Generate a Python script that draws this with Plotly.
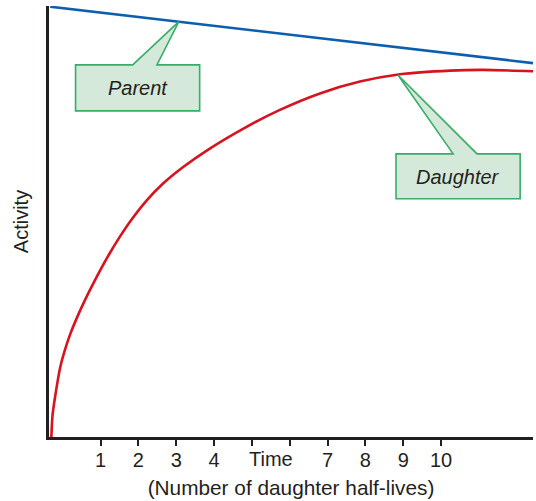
import plotly.graph_objects as go

# ---- data (x in daughter half-lives, y = relative activity) ----
daughter_t = [-0.299, -0.272, -0.212, -0.061, 0.053, 0.204, 0.389, 0.582, 0.759, 0.979,
              1.243, 1.508, 1.817, 2.222, 2.646, 3.175, 3.836, 4.860, 5.741, 6.799, 7.857,
              8.915, 10.238, 11.111, 12.434]
daughter_a = [0.0, 4.75, 8.69, 16.34, 20.05, 23.99, 27.93, 31.63, 34.76, 38.50,
              42.64, 46.44, 50.43, 54.92, 58.75, 62.57, 66.63, 71.96, 75.90, 79.72, 82.46,
              84.17, 85.01, 85.17, 84.87]
parent_t = [-0.33, 9.18, 12.43]
parent_a = [99.84, 90.0, 86.75]

tick_vals = [1, 2, 3, 4, 5, 6, 7, 8, 9, 10]
tick_text = ["1", "2", "3", "4", "", "", "7", "8", "9", "10"]

FONT = "Liberation Sans, Arial, Helvetica, sans-serif"
SIZE = 20
DARK = "#231f20"
BLUE = "#0d5fae"
RED = "#d7131f"
BOX_FILL = "#d5e9da"
BOX_LINE = "#38ac69"

fig = go.Figure()
fig.add_trace(go.Scatter(x=parent_t, y=parent_a, mode="lines",
                         line=dict(color=BLUE, width=2.6), hoverinfo="skip"))
fig.add_trace(go.Scatter(x=daughter_t, y=daughter_a, mode="lines",
                         line=dict(color=RED, width=2.6, shape="spline", smoothing=0.6),
                         hoverinfo="skip"))


def path(pts):
    return "M " + " L ".join(f"{x},{y}" for x, y in pts) + " Z"


# callout: Parent
parent_box = [(0.34, 86.33), (1.85, 86.33), (3.07, 96.36), (2.49, 86.33),
              (3.62, 86.33), (3.62, 75.67), (0.34, 75.67)]
# callout: Daughter
daughter_box = [(8.81, 65.7), (10.32, 65.7), (8.86, 84.0), (10.95, 65.7),
                (12.09, 65.7), (12.09, 55.27), (8.81, 55.27)]
for p in (parent_box, daughter_box):
    fig.add_shape(type="path", path=path(p), xref="x", yref="y",
                  fillcolor=BOX_FILL, line=dict(color=BOX_LINE, width=1.6), layer="above")

fig.add_annotation(x=1.98, y=81.0, text="<i>Parent</i>", showarrow=False,
                   font=dict(family=FONT, size=SIZE, color=DARK))
fig.add_annotation(x=10.45, y=60.35, text="<i>Daughter</i>", showarrow=False,
                   font=dict(family=FONT, size=SIZE, color=DARK))
fig.add_annotation(x=5.5, y=0, yref="y", text="Time", showarrow=False,
                   yanchor="top", yshift=-9,
                   font=dict(family=FONT, size=SIZE, color=DARK))

fig.update_layout(
    width=536, height=501,
    margin=dict(l=49, r=3, t=6, b=64),
    paper_bgcolor="white", plot_bgcolor="white",
    showlegend=False,
    font=dict(family=FONT, size=SIZE, color=DARK),
    xaxis=dict(range=[-0.362, 12.43], showgrid=False, zeroline=False, automargin=False,
               showline=True, linecolor=DARK, linewidth=3,
               tickmode="array", tickvals=tick_vals, ticktext=tick_text,
               ticks="outside", ticklen=6, tickwidth=1.5, tickcolor=DARK,
               ticklabelstandoff=-3,
               tickfont=dict(family=FONT, size=SIZE, color=DARK),
               title=dict(text="(Number of daughter half-lives)", standoff=11,
                          font=dict(family=FONT, size=20.8, color=DARK))),
    yaxis=dict(range=[0, 100], showgrid=False, zeroline=False, automargin=False,
               showline=True, linecolor=DARK, linewidth=3,
               showticklabels=False, ticks="",
               title=dict(text="Activity", standoff=13,
                          font=dict(family=FONT, size=SIZE, color=DARK))),
)

fig.write_html("out.html", config={"displayModeBar": False},
               post_script="document.body.style.margin='0';document.body.style.overflow='hidden';")
